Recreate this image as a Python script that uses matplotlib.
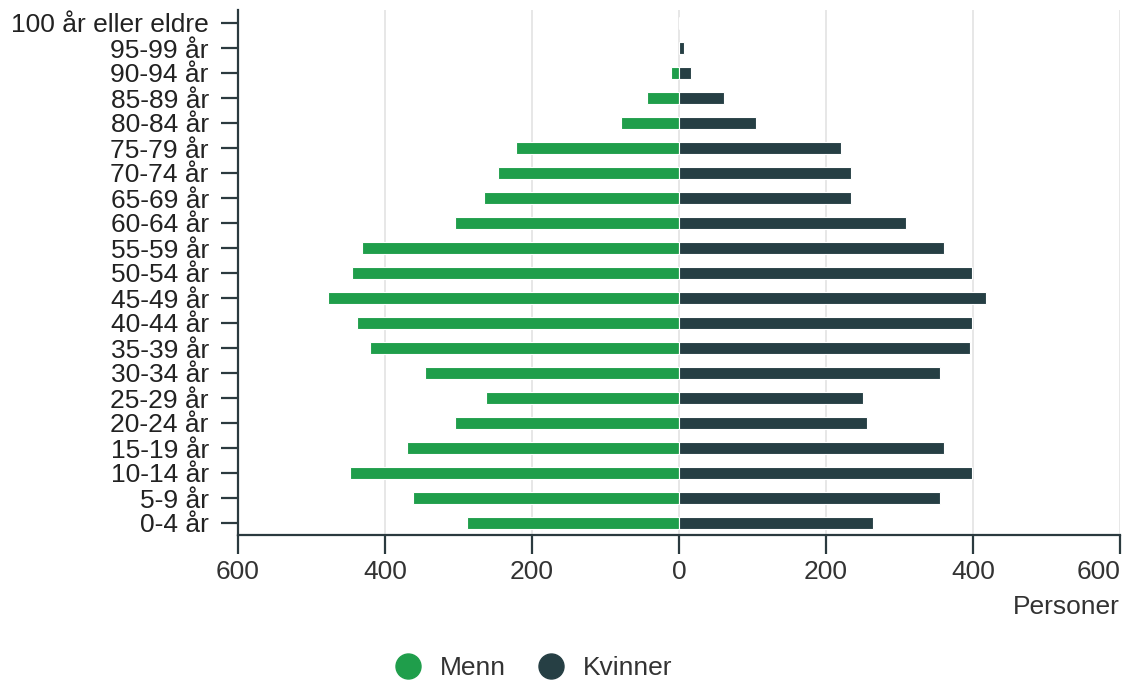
import matplotlib
matplotlib.use('Agg')
import matplotlib.pyplot as plt
from matplotlib.lines import Line2D
import numpy as np

# Aldersgrupper (nederst til øverst)
grupper = ['0-4 år', '5-9 år', '10-14 år', '15-19 år', '20-24 år', '25-29 år',
           '30-34 år', '35-39 år', '40-44 år', '45-49 år', '50-54 år', '55-59 år',
           '60-64 år', '65-69 år', '70-74 år', '75-79 år', '80-84 år', '85-89 år',
           '90-94 år', '95-99 år', '100 år eller eldre']

menn = [288, 362, 448, 370, 305, 263, 346, 420, 438, 478, 445, 431,
        305, 265, 246, 222, 79, 44, 11, 0, 0]
kvinner = [264, 355, 399, 361, 256, 250, 355, 396, 399, 418, 399, 361,
           309, 234, 234, 220, 105, 61, 16, 7, 0]

x_ticks = [-600, -400, -200, 0, 200, 400, 600]
x_labels = ['600', '400', '200', '0', '200', '400', '600']

farge_menn = '#1f9e4b'
farge_kvinner = '#263f44'
akse_farge = '#2b3a3f'

plt.rcParams['font.family'] = ['Liberation Sans', 'DejaVu Sans']

fig = plt.figure(figsize=(11.23, 6.81), dpi=100)
ax = fig.add_axes([238 / 1123, 1 - 535 / 681, (1120 - 238) / 1123, (535 - 10) / 681])

y = np.arange(len(grupper))
ax.barh(y, [-m for m in menn], height=0.45, color=farge_menn, edgecolor='white', linewidth=0.8, zorder=3)
ax.barh(y, kvinner, height=0.45, color=farge_kvinner, edgecolor='white', linewidth=0.8, zorder=3)

ax.set_xlim(-600, 600)
ax.set_ylim(-0.48, 20.52)
ax.set_yticks(y)
ax.set_yticklabels(grupper)
ax.set_xticks(x_ticks)
ax.set_xticklabels(x_labels)
# siste etikett høyrejustert så den ikke kuttes
ax.get_xticklabels()[-1].set_horizontalalignment('right')

ax.grid(axis='x', color='#e3e3e3', linewidth=1.2, zorder=0)
ax.set_axisbelow(True)

for side in ['top', 'right']:
    ax.spines[side].set_visible(False)
for side in ['left', 'bottom']:
    ax.spines[side].set_color(akse_farge)
    ax.spines[side].set_linewidth(1.6)

ax.tick_params(axis='y', length=12, width=1.6, pad=9, color=akse_farge,
               labelsize=19, labelcolor='#222222')
ax.tick_params(axis='x', length=14, width=1.6, pad=4, color=akse_farge,
               labelsize=19, labelcolor='#333333')

fig.text(1120 / 1123, 1 - 607 / 681, 'Personer', ha='right', va='center',
         fontsize=19, color='#333333')

handles = [Line2D([], [], marker='o', linestyle='none', markersize=18, color=farge_menn),
           Line2D([], [], marker='o', linestyle='none', markersize=18, color=farge_kvinner)]
fig.legend(handles, ['Menn', 'Kvinner'], loc='center', bbox_to_anchor=(527 / 1123, 1 - 668 / 681),
           ncol=2, frameon=False, fontsize=19, handletextpad=0.2, columnspacing=0.7,
           labelcolor='#333333')

fig.savefig('out.png', dpi=100)
